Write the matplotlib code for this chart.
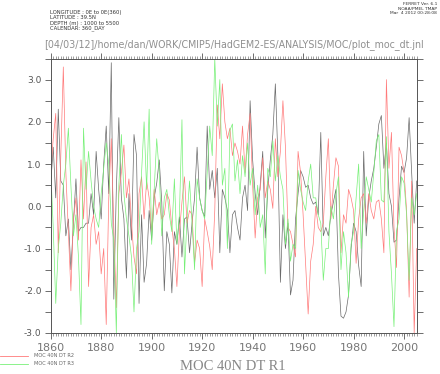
import matplotlib
matplotlib.use("Agg")
import matplotlib.pyplot as plt
import numpy as np
from matplotlib.ticker import MultipleLocator, FixedLocator, FixedFormatter

years = list(range(1860, 2006))

r1 = [0.5, 1.4, 0.2, 2.3, 0.6, 0.5, -0.7, -0.3, -1.5, -0.4,
      0.65, -0.6, -0.5, -0.5, -0.4, -0.4, 0.3, -0.2, 1.3, 0.4,
      -0.3, 1.0, 1.9, 0.3, 3.4, -2.2, 0.4, 2.1, 0.2, -0.3,
      -1.7, 0.3, -0.8, 1.7, 1.2, -2.3, -0.2, -1.8, -1.35, -0.1,
      -0.8, 0.2, 0.55, 1.1, 0.1, -2.0, -0.6, -0.9, -2.05, -0.6,
      -0.9, -0.25, -1.2, -0.3, -0.25, -1.1, -0.4, 0.2, 1.4, 0.2,
      -0.1, -0.25, 1.9, 0.4, 0.85, 0.2, 0.9, -1.1, 0.4, 0.2,
      -0.1, -1.1, -0.2, -0.1, -0.5, -0.8, 0.2, 0.5, -0.1, 2.5,
      1.1, 0.3, -0.2, 0.5, 1.3, -0.75, 0.4, 1.1, 1.7, 2.9,
      1.2, -1.8, -0.2, -1.0, -0.4, -2.1, -1.75, -0.3, 0.3, 0.85,
      0.7, 0.45, 0.5, 0.2, 0.05, 0.1, -0.2, 1.75, -0.7, -0.5,
      -0.7, -0.2, 0.1, 0.4, -1.6, -2.6, -2.65, -2.5, -2.1, -1.0,
      -0.4, -0.6, -1.4, -1.9, 1.3, -0.7, 0.2, 0.6, 0.9, 1.4,
      1.95, 2.15, 0.9, 1.5, 0.3, 0.0, -0.85, -0.8, 0.2, 0.95,
      0.8, 1.15, 2.1, 0.8, -0.4, 0.6]

r2 = [0.8, 1.6, 2.2, -1.1, 1.2, 3.3, 0.8, -0.6, -2.0, -0.3,
      0.2, -0.8, 1.1, -0.3, 1.05, -1.9, -0.5, -0.2, -0.9, -0.6,
      -1.6, -1.0, -2.8, 0.2, 1.6, -0.5, -2.4, 0.3, 0.8, 1.45,
      0.2, 0.65, -0.4, -1.2, -1.6, 0.3, 0.7, -0.3, 0.6, 0.2,
      -0.6, 0.4, -0.2, 0.1, -0.3, -0.2, 0.3, 0.15, -0.5, -1.0,
      -1.9, -0.6, 0.1, 0.7, -0.4, -0.1, -0.2, -1.35, -0.8, -1.0,
      -1.9, -0.3, -0.6, -0.95, -1.5, -0.1, 2.4, 1.6, 2.9, 2.0,
      1.6, 1.85, 1.2, 1.5, 1.3, 1.0, 1.9, 0.8, 1.7, 2.2,
      0.5, -0.75, 0.2, 0.4, 1.15, 0.2, 0.6, 0.4, -0.05, 1.6,
      0.7, 1.3, 2.5, 1.4, -0.5, -0.6, -0.9, -1.2, 1.3, 0.8,
      -0.2, -1.35, -2.55, -1.3, -0.9, 0.0, -0.5, -0.6, -0.4, 0.7,
      1.6, -0.3, 0.5, 1.15, 0.95, -1.1, -0.2, -0.4, 0.4, 0.2,
      -0.1, -1.35, -0.3, 0.2, 0.3, -0.4, 0.3, -0.1, -0.3, 0.1,
      0.15, -0.3, -1.1, 3.0, 0.9, 1.75, -0.5, -1.45, 1.4, 1.2,
      0.8, -0.1, -2.15, 0.6, -3.0, -1.0]

r3 = [0.9, -0.5, -2.3, -1.0, -0.4, 0.5, 1.0, 1.85, 0.5, -0.7,
      -0.2, -1.2, -2.8, 1.85, 0.4, 1.3, 0.6, 0.0, -0.3, -0.5,
      0.3, 0.9, 1.5, 1.0, -0.4, -0.8, -3.0, 0.5, 1.7, 0.3,
      -0.3, -0.7, -1.2, -2.5, -1.0, -0.6, 0.8, 2.0, 0.4, 2.3,
      -0.9, 0.4, 1.6, 0.8, -0.7, 0.2, 0.4, -0.2, -0.6, 0.65,
      -0.9, -0.2, 2.05, -1.6, -0.3, 0.6, -0.4, -1.5, 0.65, 0.2,
      -0.1, -0.3, 0.8, 1.9, 1.2, 3.5, 1.9, 3.0, 0.5, 0.9,
      -1.0, 1.8, 1.95, 0.6, 1.1, 0.3, 1.2, 0.7, 1.5, 0.5,
      0.9, -0.2, 0.5, -0.5, -0.2, -1.6, 0.9, 0.7, 1.55, 0.6,
      1.2, 0.7, 0.4, -0.9, -0.3, -1.3, -0.9, -1.0, 0.85, 0.4,
      0.1, -0.1, 0.6, 1.0, 0.2, 0.2, -0.2, -0.4, -1.75, -1.0,
      -1.0, 0.0, -0.3, 0.3, 0.7, -1.5, -0.6, -1.1, -2.15, -0.9,
      -0.6, 0.2, 1.0, -1.0, -0.1, 0.7, 0.4, 0.1, 0.8, 1.55,
      1.7, 0.15, 0.1, 1.65, -0.6, -1.6, -2.85, -0.6, -0.3, 0.7,
      0.55, -0.2, -1.75, 0.2, -0.2, 0.3]

y_ticks = [-3, -2, -1, 0, 1, 2, 3]
y_labels = ["-3.0", "-2.0", "-1.0", "0.0", "1.0", "2.0", "3.0"]
x_ticks = [1860, 1880, 1900, 1920, 1940, 1960, 1980, 2000]
x_labels = ["1860", "1880", "1900", "1920", "1940", "1960", "1980", "2000"]

W, H = 440, 374
fig = plt.figure(figsize=(W / 100, H / 100), dpi=100)
ax = fig.add_axes([50.7 / W, 1 - 333 / H, (416.7 - 50.7) / W, (333 - 58.5) / H])

axis_col = "#555555"
ax.plot(years, r1, color="#6a6a6a", lw=0.5)
ax.plot(years, r2, color="#ff7a7a", lw=0.5)
ax.plot(years, r3, color="#78f078", lw=0.5)

ax.set_xlim(1860, 2005)
ax.set_ylim(-3.0, 3.5)

ax.yaxis.set_major_locator(FixedLocator(y_ticks))
ax.yaxis.set_major_formatter(FixedFormatter(y_labels))
ax.yaxis.set_minor_locator(MultipleLocator(0.5))
ax.xaxis.set_major_locator(FixedLocator(x_ticks))
ax.xaxis.set_major_formatter(FixedFormatter(x_labels))
ax.xaxis.set_minor_locator(MultipleLocator(1))

ax.tick_params(axis="y", which="both", direction="out", left=True, right=True,
               length=4.5, width=0.6, color=axis_col, labelsize=6.5,
               labelcolor="#555555", pad=2)
ax.tick_params(axis="x", which="major", direction="out", bottom=True, top=True,
               length=4, width=0.6, color=axis_col, labelsize=8,
               labelcolor="#777777", pad=3)
ax.tick_params(axis="x", which="minor", direction="out", bottom=True, top=True,
               length=2.2, width=0.4, color=axis_col)
for s in ax.spines.values():
    s.set_color(axis_col)
    s.set_linewidth(0.7)

# header texts
hdr = ["LONGITUDE : 0E to 0E(360)", "LATITUDE : 39.5N",
       "DEPTH (m) : 1000 to 5500", "CALENDAR: 360_DAY"]
for i, t in enumerate(hdr):
    fig.text(50 / W, 1 - (12.5 + 5.3 * i) / H, t, fontsize=3.8,
             color="#333333", ha="left", va="center")
rhdr = ["FERRET Ver. 6.1", "NOAA/PMEL TMAP", "Mar  4 2012 00:28:08"]
for i, t in enumerate(rhdr):
    fig.text(437 / W, 1 - (4 + 4.5 * i) / H, t, fontsize=3.2,
             color="#333333", ha="right", va="center")

path_txt = fig.text(234 / W, 1 - 45 / H,
                    "[04/03/12]/home/dan/WORK/CMIP5/HadGEM2-ES/ANALYSIS/MOC/plot_moc_dt.jnl",
                    fontsize=7.6, color="#909090", ha="center", va="center",
                    family="DejaVu Sans")
fig.canvas.draw()
wpx = path_txt.get_window_extent().width
path_txt.set_fontsize(7.6 * 381.0 / wpx)

fig.text(233 / W, 1 - 366 / H, "MOC 40N DT R1", fontsize=10.5,
         color="#888888", ha="center", va="center", family="Liberation Serif")

# legend
for i, (c, lab) in enumerate([("#ff7a7a", "MOC 40N DT R2"), ("#78f078", "MOC 40N DT R3")]):
    yy = 1 - (355.5 + 8 * i) / H
    fig.add_artist(plt.Line2D([0, 28 / W], [yy, yy], color=c, lw=0.6,
                              transform=fig.transFigure))
    fig.text(34 / W, yy, lab, fontsize=3.6, color="#666666", ha="left", va="center")

fig.savefig("out.png", dpi=100)
